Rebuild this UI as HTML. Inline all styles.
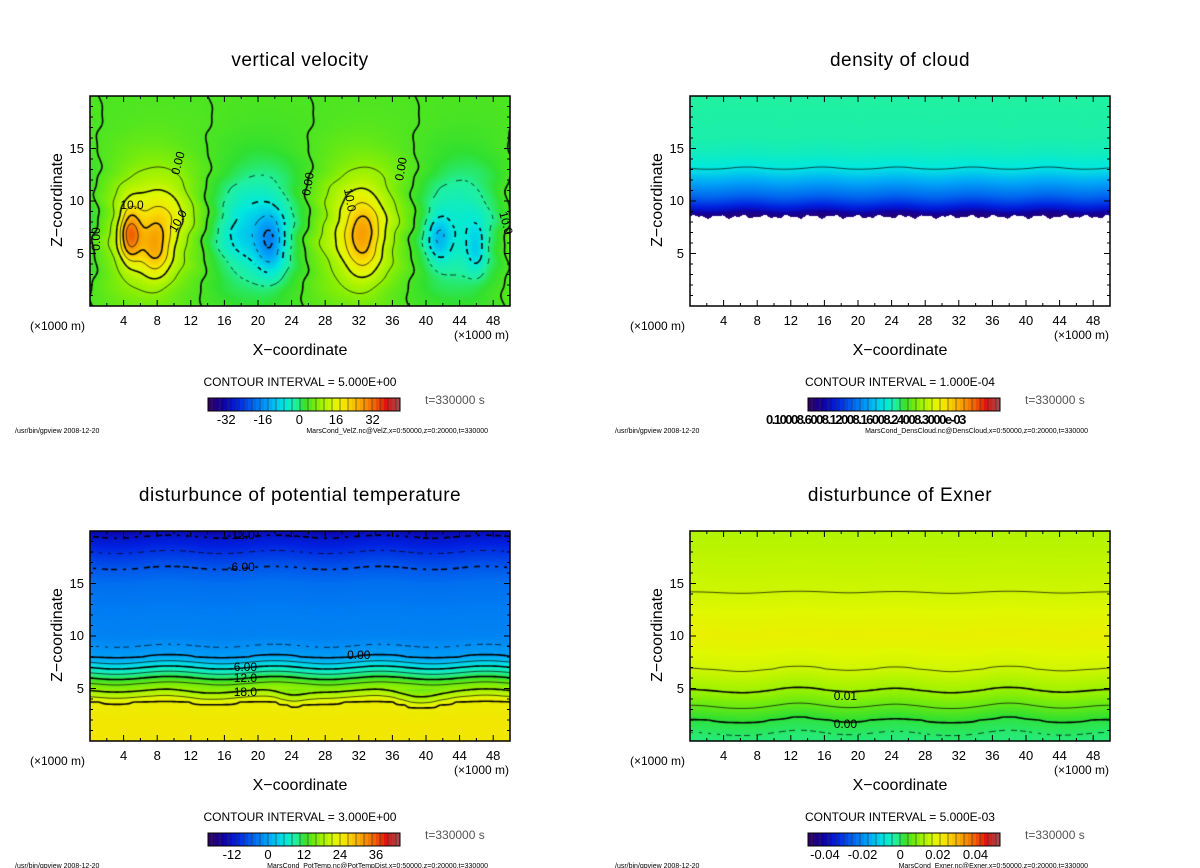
<!DOCTYPE html>
<html><head><meta charset="utf-8">
<style>
body{margin:0;background:#fff;}
#root{position:relative;width:1200px;height:868px;overflow:hidden;font-family:"Liberation Sans","DejaVu Sans",sans-serif;color:#000;}
.t{position:absolute;white-space:nowrap;}
canvas{position:absolute;}
svg{position:absolute;left:0;top:0;}
</style></head>
<body>
<div id="root"></div>
<script>
// ---------- data ----------
const velLobeX=[-5,7,20,32,44,56];
const velLobeAmp=[-9,12,-10,12,-9,12];
const velCoreX=[4.8,7.8,9.5,21.5,18,32.5,41.5,46];
const velCoreZ=[6.8,5.5,9,6,7,6.5,6.5,5.5];
const velCoreAmp=[18,12,4,-12,-4,12,-9,-7];
const velCoreSX=[0.9,1.3,2,1.2,2,1.5,1,0.8];
const velCoreSZ=[1.8,2,2,2,2,2.5,1.6,1.6];
const cloudZ=[8.5,8.8,9.2,9.8,10.5,11.5,12.5,13.2,14.5,16,20];
const cloudT=[0.03,0.06,0.12,0.18,0.24,0.3,0.36,0.4,0.43,0.45,0.46];
const tempZ=[0,2,3.8,4.2,4.8,5.5,6,6.5,7,7.5,8,8.6,10,12,15,16.5,18,19.5,20];
const tempV=[25,25,24,21,18,15,12,9,6,3,0,-1,-2.5,-2.9,-4,-6,-9,-12,-14];
const exnZ=[0,1.7,3,4.5,6.5,10,14,20];
const exnV=[-0.002,0,0.005,0.01,0.015,0.019,0.015,0.012];
const velTicks=[-32,-16,0,16,32];
const tempTicks=[-12,0,12,24,36];
const exnTicks=[-0.04,-0.02,0,0.02,0.04];
const xTicks=[4,8,12,16,20,24,28,32,36,40,44,48];
const zTicks=[5,10,15];

// ---------- helpers ----------
const root=document.getElementById('root');
const PW=420,PH=210;
const stops=[[0,'#300060'],[0.08,'#1000a0'],[0.15,'#0020e0'],[0.25,'#0070f0'],[0.32,'#00a8f8'],[0.40,'#00e8e0'],[0.46,'#20f0a0'],[0.5,'#30e030'],[0.58,'#90f000'],[0.66,'#e0f800'],[0.72,'#f8e000'],[0.80,'#f8a000'],[0.87,'#f06000'],[0.93,'#e01010'],[1,'#a05050']].map(s=>[s[0],parseInt(s[1].slice(1,3),16),parseInt(s[1].slice(3,5),16),parseInt(s[1].slice(5,7),16)]);
function cmap(t){t=Math.max(0,Math.min(1,t));for(let i=1;i<stops.length;i++){if(t<=stops[i][0]){const a=stops[i-1],b=stops[i],f=(t-a[0])/(b[0]-a[0]);return [a[1]+(b[1]-a[1])*f,a[2]+(b[2]-a[2])*f,a[3]+(b[3]-a[3])*f];}}return stops[stops.length-1].slice(1);}
function interp(zs,vs,z){if(z<=zs[0])return vs[0];for(let i=1;i<zs.length;i++){if(z<=zs[i]){const f=(z-zs[i-1])/(zs[i]-zs[i-1]);return vs[i-1]+(vs[i]-vs[i-1])*f;}}return vs[vs.length-1];}
function text(s,x,y,size,opts){const d=document.createElement('div');d.className='t';d.textContent=s;d.style.left=x+'px';d.style.top=y+'px';d.style.fontSize=size+'px';if(opts)Object.assign(d.style,opts);root.appendChild(d);return d;}

function velF(x,z){let v=0;const xs=x+0.35*Math.sin(z*1.3)+0.12*Math.sin(z*3.1+x)-0.05*(z-7);const gz=Math.exp(-0.5*((z-7.5)/4.2)**2);
 for(let i=0;i<velLobeX.length;i++)v+=velLobeAmp[i]*Math.exp(-0.5*((xs-velLobeX[i])/3.8)**2)*gz;
 for(let i=0;i<velCoreX.length;i++)v+=velCoreAmp[i]*Math.exp(-0.5*((x-velCoreX[i])/velCoreSX[i])**2-0.5*((z-velCoreZ[i])/velCoreSZ[i])**2);
 return v;}
function cloudF(x,z){const edge=8.5+0.12*Math.sin(x*2.3)+0.08*Math.sin(x*5.1);if(z<edge)return null;return interp(cloudZ,cloudT,z+0.1*Math.sin(x*0.7));}
function tempF(x,z){const w=0.15*Math.sin(x*0.5)+(z<5?0.5*(Math.exp(-0.5*((x-24)/1.5)**2)+Math.exp(-0.5*((x-39)/2)**2)+0.3*Math.exp(-0.5*((x-13)/2)**2)):0);return interp(tempZ,tempV,z+w);}
function exnF(x,z){const w=(z<9?1:0.4)*(0.6*Math.exp(-0.5*((x-13)/3)**2)+0.5*Math.exp(-0.5*((x-24.5)/3)**2)+0.6*Math.exp(-0.5*((x-38)/3)**2)+0.4*Math.exp(-0.5*((x-50)/3)**2)+0.4*Math.exp(-0.5*((x)/3)**2));return interp(exnZ,exnV,z-w);}

function panel(cfg){
 const ox=cfg.ox,oy=cfg.oy;
 const cv=document.createElement('canvas');cv.width=PW;cv.height=PH;cv.style.left=ox+'px';cv.style.top=oy+'px';
 
 
 root.appendChild(cv);
 const ctx=cv.getContext('2d');const img=ctx.createImageData(PW,PH);
 for(let py=0;py<PH;py++)for(let px=0;px<PW;px++){const x=(px+.5)/PW*50,z=(PH-py-.5)/PH*20;const v=cfg.f(x,z);const k=(py*PW+px)*4;
  if(v===null){img.data[k]=img.data[k+1]=img.data[k+2]=255;}else{const c=cmap(cfg.norm(v));img.data[k]=c[0];img.data[k+1]=c[1];img.data[k+2]=c[2];}img.data[k+3]=255;}
 ctx.putImageData(img,0,0);
 const nx=141,nz=71;const G=[];
 for(let i=0;i<nx;i++){G.push([]);for(let j=0;j<nz;j++){G[i].push(cfg.f(i/(nx-1)*50,j/(nz-1)*20));}}
 const X=i=>i/(nx-1)*PW,Y=j=>PH-j/(nz-1)*PH;
 ctx.strokeStyle='#000';
 cfg.levels.forEach((L,li)=>{
  ctx.lineWidth=cfg.thick(L)?1.6:0.7;
  for(let i=0;i<nx-1;i++)for(let j=0;j<nz-1;j++){
   const c=[[i,j],[i+1,j],[i+1,j+1],[i,j+1]];const vals=c.map(p=>G[p[0]][p[1]]);
   if(vals.some(v=>v===null))continue;
   const pts=[];
   for(let e=0;e<4;e++){const a=vals[e],b=vals[(e+1)%4];if((a<L)!==(b<L)){const f=(L-a)/(b-a);const p=c[e],q=c[(e+1)%4];pts.push([X(p[0]+(q[0]-p[0])*f),Y(p[1]+(q[1]-p[1])*f)]);}}
   for(let k=0;k+1<pts.length;k+=2){
    if(L<0&&cfg.dash){const mx=(pts[k][0]+pts[k+1][0])/2,my=(pts[k][1]+pts[k+1][1])/2;if(Math.floor((mx+my)/5)%2)continue;}
    ctx.beginPath();ctx.moveTo(pts[k][0],pts[k][1]);ctx.lineTo(pts[k+1][0],pts[k+1][1]);ctx.stroke();}
  }});
 const NS='http://www.w3.org/2000/svg';
 const svg=document.createElementNS(NS,'svg');svg.setAttribute('width',1200);svg.setAttribute('height',868);
 
 
 root.appendChild(svg);
 const ln=(x1,y1,x2,y2,w)=>{const l=document.createElementNS(NS,'line');l.setAttribute('x1',x1);l.setAttribute('y1',y1);l.setAttribute('x2',x2);l.setAttribute('y2',y2);l.setAttribute('stroke','#000');l.setAttribute('stroke-width',w||1);svg.appendChild(l);return l;};
 const fr=document.createElementNS(NS,'rect');fr.setAttribute('x',ox);fr.setAttribute('y',oy);fr.setAttribute('width',PW);fr.setAttribute('height',PH);fr.setAttribute('fill','none');fr.setAttribute('stroke','#000');fr.setAttribute('stroke-width',1.5);
 
 
 svg.appendChild(fr);
 for(let x=2;x<50;x+=2){const px=ox+x/50*PW,len=x%4?3:6;ln(px,oy+PH,px,oy+PH-len);ln(px,oy,px,oy+len);}
 for(let z=1;z<20;z++){const py=oy+PH-z/20*PH,len=z%5?3:6;ln(ox,py,ox+len,py);ln(ox+PW,py,ox+PW-len,py);}
 xTicks.forEach(x=>{const d=text(String(x),ox+x/50*PW-12,oy+PH+7,13,{width:'24px',textAlign:'center'});});
 zTicks.forEach(z=>{const d=text(String(z),ox-36,oy+PH-z/20*PH-8,13,{width:'30px',textAlign:'right'});});
 let d;
 d=text('(×1000 m)',ox-60,oy+PH+13,12);
 d=text('(×1000 m)',ox+PW-56,oy+PH+22,12);
 d=text('Z−coordinate',ox-92,oy+PH/2-10,16,{width:'120px',textAlign:'center',transform:'rotate(-90deg)'});
 d=text('X−coordinate',ox+PW/2-110,oy+PH+36,16,{width:'220px',textAlign:'center'});
 d=text(cfg.title,ox+PW/2-250,oy-46,19,{width:'500px',textAlign:'center',letterSpacing:'0.5px'});
 d=text(cfg.ci,ox+PW/2-150,oy+PH+69,12,{width:'300px',textAlign:'center'});
 const bx=ox+118,by=oy+PH+92,bw=192,bh=13,n=48;
 for(let k=0;k<n;k++){const r=document.createElementNS(NS,'rect');const c=cmap((k+.5)/n);r.setAttribute('x',bx+k*bw/n);r.setAttribute('y',by);r.setAttribute('width',bw/n+0.3);r.setAttribute('height',bh);r.setAttribute('fill','rgb('+c.map(Math.round).join(',')+')');
  
  
  svg.appendChild(r);if(k%2)ln(bx+k*bw/n,by,bx+k*bw/n,by+bh,0.6).setAttribute('stroke','#333');}
 const cb=document.createElementNS(NS,'rect');cb.setAttribute('x',bx);cb.setAttribute('y',by);cb.setAttribute('width',bw);cb.setAttribute('height',bh);cb.setAttribute('fill','none');cb.setAttribute('stroke','#000');
 
 
 svg.appendChild(cb);
 cfg.ticks.forEach(v=>{const d=text(cfg.fmt(v),bx+cfg.cbNorm(v)*bw-20,by+bh+1,13,{width:'40px',textAlign:'center'});});
 if(cfg.cbRaw){d=text(cfg.cbRaw,bx-42,by+bh+1,13,{fontWeight:'bold',letterSpacing:'-1.5px'});}
 d=text('t=330000  s',ox+PW/2+125,oy+PH+87,12,{color:'#555'});
 d=text('/usr/bin/gpview   2008-12-20',ox-75,oy+PH+122,7);
 d=text(cfg.src,ox+PW-272,oy+PH+122,7,{width:'250px',textAlign:'right'});
 (cfg.labels||[]).forEach(l=>{const d=text(l[0],ox+l[1]/50*PW-14,oy+PH-l[2]/20*PH-8,12,{width:'28px',textAlign:'center',transform:l[3]?'rotate('+l[3]+'deg)':''});});
}
const rng=(a,b,s)=>{const r=[];for(let v=a;v<=b+1e-9;v+=s)r.push(+v.toFixed(6));return r;};

panel({name:'vertical-velocity',ox:90,oy:96,title:'vertical velocity',f:velF,norm:v=>(v+44)/84,cbNorm:v=>(v+40)/84,
 levels:rng(-30,30,5),thick:L=>Math.round(L)%10===0,dash:true,ticks:velTicks,fmt:v=>String(v),
 ci:'CONTOUR INTERVAL = 5.000E+00',src:'MarsCond_VelZ.nc@VelZ,x=0:50000,z=0:20000,t=330000',
 labels:[['10.0',5,9.5,0],['0.00',10.5,13.5,-75],['10.0',10.5,8,-60],['0.00',26,11.5,-80],['10.0',31,10,80],['0.00',37,13,-80],['10.0',49.5,7.8,75],['0.00',0.7,6.3,-90]]});
panel({name:'density-of-cloud',ox:690,oy:96,title:'density of cloud',f:cloudF,norm:v=>v,cbNorm:v=>v,
 levels:[0.395],thick:()=>false,dash:false,ticks:[],fmt:v=>'',cbRaw:'0.10008.6008.12008.16008.24008.3000e-03',
 ci:'CONTOUR INTERVAL = 1.000E-04',src:'MarsCond_DensCloud.nc@DensCloud,x=0:50000,z=0:20000,t=330000'});
panel({name:'potential-temperature',ox:90,oy:531,title:'disturbunce of potential temperature',f:tempF,norm:v=>(v+20)/64,cbNorm:v=>(v+20)/64,
 levels:[-12,-9,-6,-1.5,0,3,6,9,12,15,18,21,24],thick:L=>Math.round(L)%6===0,dash:true,ticks:tempTicks,fmt:v=>String(v),
 ci:'CONTOUR INTERVAL = 3.000E+00',src:'MarsCond_PotTemp.nc@PotTempDist,x=0:50000,z=0:20000,t=330000',
 labels:[['-12.0',18,19.5],['-6.00',18,16.5],['0.00',32,8.1],['6.00',18.5,7],['12.0',18.5,5.9],['18.0',18.5,4.6]]});
panel({name:'exner',ox:690,oy:531,title:'disturbunce of Exner',f:exnF,norm:v=>(v+0.0505)/0.102,cbNorm:v=>(v+0.049)/0.102,
 levels:[-0.0015,0,0.005,0.01,0.015],thick:L=>Math.abs(L)<1e-9||Math.abs(L-0.01)<1e-9,dash:true,ticks:exnTicks,fmt:v=>v===0?'0':String(v),
 ci:'CONTOUR INTERVAL = 5.000E-03',src:'MarsCond_Exner.nc@Exner,x=0:50000,z=0:20000,t=330000',
 labels:[['0.01',18.5,4.2],['0.00',18.5,1.5]]});
</script>
</body></html>
